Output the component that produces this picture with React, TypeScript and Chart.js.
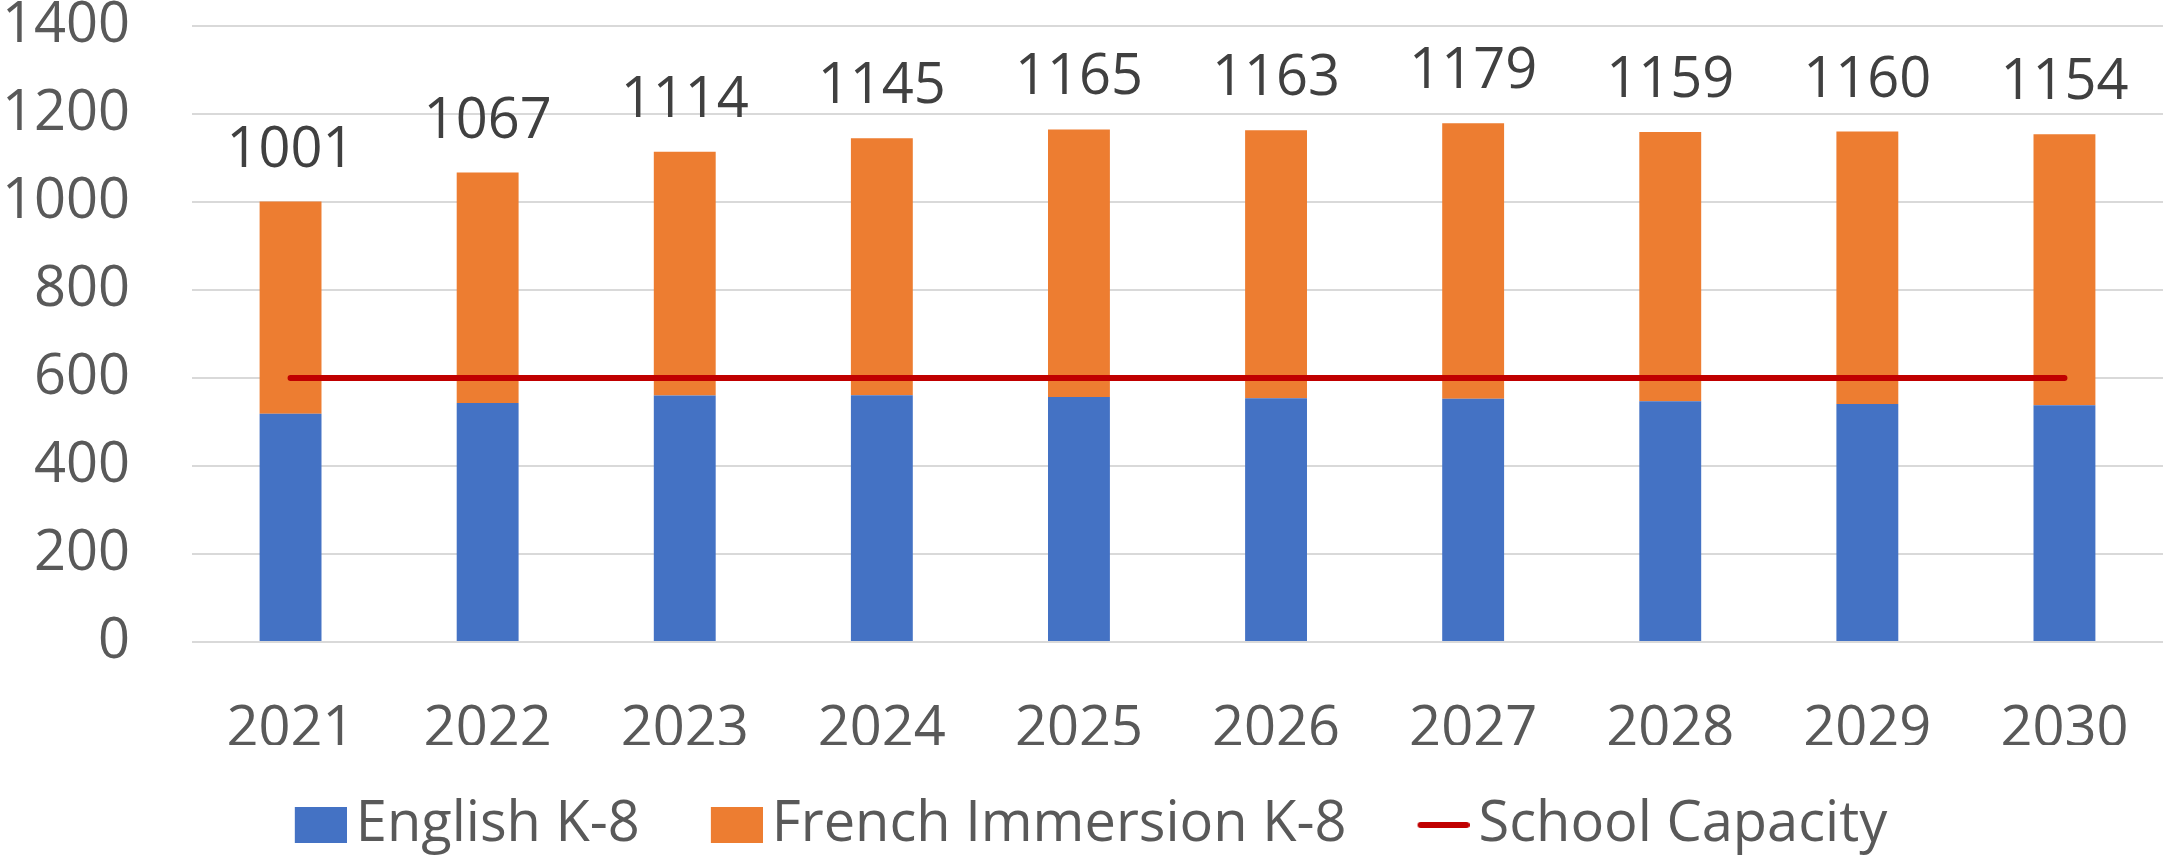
import React, { useEffect, useRef } from 'react';
import { Chart, registerables } from 'chart.js';

Chart.register(...registerables);

const years = ['2021', '2022', '2023', '2024', '2025', '2026', '2027', '2028', '2029', '2030'];
const englishK8 = [519, 543, 560, 561, 557, 554, 553, 547, 541, 538];
const frenchImmersionK8 = [482, 524, 554, 584, 608, 609, 626, 612, 619, 616];
const schoolCapacity = [600, 600, 600, 600, 600, 600, 600, 600, 600, 600];
const seriesNames = ['English K-8', 'French Immersion K-8', 'School Capacity'];
const yMax = 1400;
const yStep = 200;

const FONT = "'Open Sans', 'Noto Sans', sans-serif";
const BLUE = '#4472C4';
const ORANGE = '#ED7D31';
const RED = '#C00000';
const AXIS_TEXT = '#595959';
const LABEL_TEXT = '#404040';

const totalLabels = {
  id: 'totalLabels',
  afterDatasetsDraw(chart: any) {
    const meta = chart.getDatasetMeta(1);
    const ctx = chart.ctx;
    ctx.save();
    ctx.font = `56px ${FONT}`;
    ctx.fillStyle = LABEL_TEXT;
    ctx.textAlign = 'center';
    ctx.textBaseline = 'alphabetic';
    meta.data.forEach((bar: any, i: number) => {
      const total = englishK8[i] + frenchImmersionK8[i];
      ctx.fillText(String(total), bar.x, bar.y - 35);
    });
    ctx.restore();
  },
};

// Legend marker images: the marker sits on the right part of the image so the gap to the text is small.
function makeMarker(kind: 'rect' | 'line', color: string) {
  const c = document.createElement('canvas');
  c.width = 90;
  c.height = kind === 'rect' ? 36 : 8;
  const g = c.getContext('2d')!;
  if (kind === 'rect') {
    g.fillStyle = color;
    g.fillRect(38, 0, 52, 36);
  } else {
    g.strokeStyle = color;
    g.lineWidth = 6;
    g.lineCap = 'round';
    g.beginPath();
    g.moveTo(41, 4);
    g.lineTo(87, 4);
    g.stroke();
  }
  return c;
}

export default function App() {
  const canvasRef = useRef<HTMLCanvasElement | null>(null);

  useEffect(() => {
    if (!canvasRef.current) return;
    const markers = [makeMarker('rect', BLUE), makeMarker('rect', ORANGE), makeMarker('line', RED)];
    const chart = new Chart(canvasRef.current, {
      type: 'bar',
      data: {
        labels: years,
        datasets: [
          {
            type: 'bar',
            label: seriesNames[0],
            data: englishK8,
            backgroundColor: BLUE,
            borderWidth: 0,
            barPercentage: 0.314,
            categoryPercentage: 1,
            order: 1,
          },
          {
            type: 'bar',
            label: seriesNames[1],
            data: frenchImmersionK8,
            backgroundColor: ORANGE,
            borderWidth: 0,
            barPercentage: 0.314,
            categoryPercentage: 1,
            order: 1,
          },
          {
            type: 'line',
            label: seriesNames[2],
            data: schoolCapacity,
            borderColor: RED,
            backgroundColor: RED,
            borderWidth: 6,
            borderCapStyle: 'round',
            pointRadius: 0,
            pointHoverRadius: 0,
            tension: 0,
            order: 0,
          } as any,
        ],
      },
      options: {
        responsive: false,
        devicePixelRatio: 1,
        animation: false,
        layout: { padding: { top: 26, right: 2, left: 0, bottom: -5 } },
        plugins: {
          tooltip: { enabled: false },
          legend: {
            position: 'bottom',
            labels: {
              usePointStyle: true,
              pointStyleWidth: 52,
              boxWidth: 52,
              boxHeight: 36,
              padding: 52,
              color: AXIS_TEXT,
              font: { family: FONT, size: 56 },
              generateLabels: (c: any) =>
                c.data.datasets.map((ds: any, i: number) => ({
                  text: ds.label,
                  fillStyle: i === 2 ? RED : ds.backgroundColor,
                  strokeStyle: i === 2 ? RED : ds.backgroundColor,
                  lineWidth: 0,
                  pointStyle: markers[i],
                  fontColor: AXIS_TEXT,
                  hidden: false,
                  datasetIndex: i,
                })),
            },
          },
        },
        scales: {
          x: {
            stacked: true,
            grid: { display: false },
            border: { display: false },
            ticks: {
              color: AXIS_TEXT,
              padding: 0,
              font: { family: FONT, size: 56, lineHeight: 160 / 56 },
            },
            afterFit: (s: any) => {
              s.height = 103;
            },
          },
          y: {
            stacked: true,
            min: 0,
            max: yMax,
            grid: { color: '#D9D9D9', lineWidth: 2, drawTicks: false },
            border: { display: false },
            ticks: {
              stepSize: yStep,
              color: AXIS_TEXT,
              padding: 62,
              font: { family: FONT, size: 56, lineHeight: 0.9 },
              callback: (v: any) => String(v),
            },
            afterFit: (s: any) => {
              s.width = 192;
              s.paddingTop = 20;
              s.paddingBottom = 20;
            },
          },
        },
      },
      plugins: [totalLabels],
    });
    return () => chart.destroy();
  }, []);

  return (
    <div style={{ position: 'fixed', left: 0, top: 0, width: 2165, height: 858, background: '#fff' }}>
      <canvas ref={canvasRef} width={2165} height={858} style={{ display: 'block' }} />
    </div>
  );
}
